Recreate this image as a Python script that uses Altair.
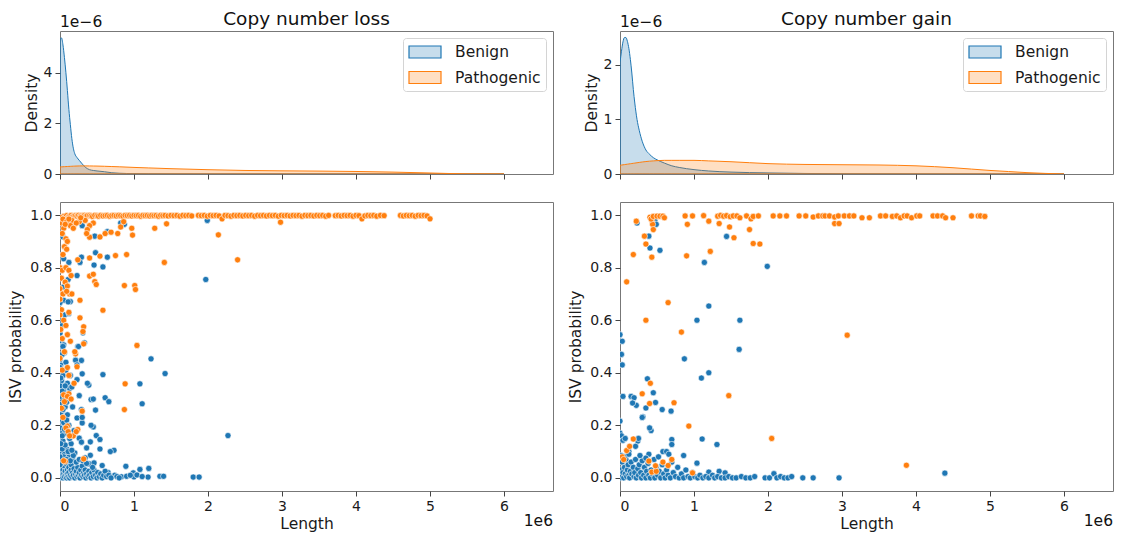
import altair as alt
import pandas as pd

CLASSES = ["Benign", "Pathogenic"]
BLUE, ORANGE = "#1f77b4", "#ff7f0e"

# ---------------- KDE curves (density in units of 1e-6, length in units of 1e6) -------------
kde_x = [0, 0.02, 0.04, 0.06, 0.08, 0.10, 0.12, 0.14, 0.16, 0.18, 0.20, 0.23, 0.26, 0.30, 0.35,
         0.40, 0.45, 0.50, 0.60, 0.70, 0.80, 1.0, 1.2, 1.5, 2.0, 2.5, 3.0, 3.5, 4.0, 4.5, 5.0,
         5.25, 5.5, 6.0]
loss_kde_benign = [5.30, 5.38, 5.10, 4.60, 4.00, 3.30, 2.55, 1.95, 1.40, 1.02, 0.80, 0.65, 0.54,
                   0.40, 0.25, 0.17, 0.14, 0.12, 0.09, 0.05, 0.03, 0.015, 0.01, 0.006, 0.004,
                   0.002, 0.001, 0, 0, 0, 0, 0, 0, 0]
loss_kde_path = [0.28, 0.283, 0.286, 0.29, 0.293, 0.296, 0.30, 0.303, 0.306, 0.309, 0.312, 0.315,
                 0.318, 0.32, 0.32, 0.318, 0.316, 0.313, 0.305, 0.295, 0.285, 0.26, 0.24, 0.21,
                 0.17, 0.14, 0.125, 0.115, 0.10, 0.075, 0.04, 0.02, 0.006, 0]
gain_kde_benign = [2.04, 2.25, 2.42, 2.50, 2.50, 2.43, 2.30, 2.10, 1.85, 1.55, 1.30, 1.00, 0.80,
                   0.60, 0.44, 0.36, 0.30, 0.26, 0.20, 0.15, 0.12, 0.08, 0.055, 0.035, 0.02,
                   0.01, 0.005, 0.003, 0.002, 0.001, 0, 0, 0, 0]
gain_kde_path = [0.16, 0.164, 0.168, 0.172, 0.176, 0.18, 0.184, 0.188, 0.192, 0.196, 0.20, 0.206,
                 0.212, 0.22, 0.228, 0.235, 0.24, 0.245, 0.25, 0.25, 0.25, 0.25, 0.24, 0.225,
                 0.19, 0.175, 0.17, 0.165, 0.15, 0.115, 0.065, 0.045, 0.025, 0]

# ---------------- scatter points: (length in 1e6, ISV probability) ----------------
loss_benign = [
    (0.00, 0.973), (0.04, 0.917), (0.05, 0.834), (0.12, 0.82), (0.11, 0.755), (0.05, 0.727),
    (0.23, 0.77), (0.14, 0.671), (0.05, 0.676), (0.00, 0.667), (0.11, 0.67), (0.06, 0.62),
    (0.12, 0.626), (0.00, 0.63), (0.00, 0.55), (0.02, 0.514), (0.05, 0.506), (0.06, 0.476),
    (0.00, 0.50), (0.04, 0.50), (0.01, 0.43), (0.00, 0.42), (0.04, 0.39), (0.08, 0.41),
    (0.02, 0.37), (0.00, 0.35), (0.05, 0.33), (0.10, 0.36), (0.13, 0.34), (0.03, 0.30),
    (0.00, 0.28), (0.07, 0.27), (0.02, 0.25), (0.10, 0.24), (0.00, 0.22), (0.05, 0.21),
    (0.12, 0.20), (0.02, 0.18), (0.08, 0.17), (0.00, 0.15), (0.04, 0.14), (0.15, 0.13),
    (0.02, 0.12), (0.09, 0.11), (0.00, 0.10), (0.06, 0.09), (0.12, 0.08), (0.17, 0.07),
    (0.82, 0.97), (0.87, 0.965), (0.30, 0.96), (0.47, 0.92), (0.64, 0.937), (0.48, 0.857),
    (0.58, 0.803), (0.46, 0.81), (0.64, 0.84), (0.29, 0.84), (0.27, 0.82), (1.97, 0.755),
    (1.99, 0.98), (0.31, 0.552), (0.33, 0.514), (0.24, 0.50), (0.29, 0.447), (0.21, 0.448),
    (0.23, 0.43), (0.25, 0.50), (1.23, 0.453), (1.42, 0.397), (0.58, 0.393), (0.30, 0.396),
    (1.08, 0.358), (0.39, 0.353), (0.23, 0.374), (0.16, 0.346), (0.26, 0.313), (0.42, 0.298),
    (0.61, 0.305), (0.66, 0.29), (1.11, 0.282), (0.48, 0.258), (0.29, 0.26), (0.09, 0.288),
    (0.23, 0.228), (0.30, 0.209), (0.45, 0.194), (0.49, 0.161), (2.27, 0.161), (0.26, 0.151),
    (0.29, 0.136), (0.41, 0.137), (0.54, 0.146), (0.54, 0.11), (0.73, 0.105), (0.36, 0.114),
    (0.20, 0.095), (0.41, 0.086), (0.34, 0.076), (0.40, 0.053), (0.46, 0.057), (0.89, 0.044),
    (1.08, 0.032), (0.99, 0.019), (1.20, 0.036), (0.57, 0.047), (0.71, 0.006), (0.83, 0.004),
    (0.90, 0.006), (1.00, 0.004), (1.04, 0.011), (1.19, 0.003), (1.35, 0.006), (1.40, 0.006),
    (1.80, 0.003), (1.88, 0.003), (0.65, 0.02), (0.74, 0.01), (0.68, 0.10), (0.37, 0.36),
    (0.45, 0.30), (0.42, 0.20), (0.30, 0.23),
    (0.00, 0.00), (0.01, 0.02), (0.02, 0.005), (0.02, 0.04), (0.03, 0.01), (0.04, 0.03),
    (0.04, 0.00), (0.05, 0.015), (0.06, 0.045), (0.06, 0.005), (0.07, 0.025), (0.08, 0.01),
    (0.08, 0.055), (0.09, 0.00), (0.10, 0.03), (0.10, 0.015), (0.11, 0.005), (0.12, 0.04),
    (0.12, 0.02), (0.13, 0.00), (0.14, 0.01), (0.15, 0.03), (0.15, 0.05), (0.16, 0.005),
    (0.17, 0.02), (0.18, 0.01), (0.19, 0.035), (0.20, 0.00), (0.21, 0.015), (0.22, 0.025),
    (0.23, 0.005), (0.24, 0.04), (0.25, 0.01), (0.26, 0.02), (0.27, 0.00), (0.28, 0.03),
    (0.29, 0.01), (0.30, 0.045), (0.31, 0.005), (0.32, 0.02), (0.33, 0.01), (0.34, 0.03),
    (0.35, 0.00), (0.36, 0.015), (0.38, 0.005), (0.39, 0.025), (0.40, 0.01), (0.42, 0.00),
    (0.43, 0.02), (0.45, 0.005), (0.46, 0.03), (0.48, 0.01), (0.50, 0.00), (0.51, 0.02),
    (0.53, 0.005), (0.55, 0.015), (0.57, 0.00), (0.59, 0.01), (0.61, 0.025), (0.63, 0.005),
    (0.66, 0.01), (0.69, 0.00), (0.77, 0.005), (0.80, 0.00), (0.95, 0.01), (1.11, 0.005),
    (0.02, 0.065), (0.05, 0.08), (0.09, 0.07), (0.14, 0.065), (0.18, 0.085), (0.22, 0.06),
    (0.26, 0.07), (0.11, 0.10), (0.03, 0.11), (0.07, 0.125), (0.16, 0.105), (0.31, 0.065),
    (0.36, 0.055), (0.44, 0.04), (0.00, 0.05), (0.00, 0.08), (0.01, 0.13), (0.00, 0.19),
    (0.03, 0.16), (0.06, 0.185), (0.01, 0.24), (0.04, 0.26), (0.09, 0.22), (0.00, 0.31),
    (0.03, 0.33), (0.07, 0.35), (0.01, 0.38), (0.00, 0.45), (0.03, 0.47), (0.02, 0.58),
    (0.00, 0.60), (0.08, 0.44), (0.14, 0.39), (0.17, 0.27), (0.19, 0.18), (0.13, 0.15),
]

loss_path_band_len = [
    0.03, 0.05, 0.07, 0.09, 0.11, 0.13, 0.15, 0.17, 0.19, 0.21, 0.23, 0.25, 0.27, 0.29, 0.31,
    0.33, 0.35, 0.37, 0.40, 0.42, 0.44, 0.47, 0.50, 0.52, 0.55, 0.58, 0.61, 0.64, 0.67, 0.70,
    0.73, 0.76, 0.79, 0.82, 0.85, 0.88, 0.91, 0.94, 0.97, 1.00, 1.03, 1.06, 1.09, 1.12, 1.15,
    1.18, 1.21, 1.24, 1.27, 1.30, 1.33, 1.36, 1.39, 1.42, 1.46, 1.50, 1.54, 1.58, 1.62, 1.66,
    1.70, 1.74, 1.78, 1.87, 1.91, 1.95, 1.99, 2.03, 2.07, 2.11, 2.15, 2.19, 2.23, 2.27, 2.31,
    2.35, 2.39, 2.43, 2.47, 2.51, 2.55, 2.59, 2.63, 2.67, 2.71, 2.75, 2.79, 2.83, 2.87, 2.91,
    2.95, 2.99, 3.03, 3.07, 3.11, 3.15, 3.19, 3.23, 3.27, 3.31, 3.35, 3.39, 3.43, 3.47, 3.51,
    3.55, 3.59, 3.63, 3.72, 3.76, 3.80, 3.84, 3.88, 3.92, 3.96, 4.00, 4.04, 4.08, 4.12, 4.16,
    4.20, 4.24, 4.28, 4.33, 4.38, 4.60, 4.64, 4.68, 4.72, 4.76, 4.80, 4.84, 4.88, 4.92, 4.96,
    5.00]
loss_path_band_prob = [
    0.990, 0.995, 0.985, 0.998, 0.992, 0.996, 0.999, 0.994, 0.997, 0.998, 0.996, 0.999, 0.995,
    0.998, 0.997, 0.999, 0.996, 0.998, 0.999, 0.997, 0.995, 0.999, 0.998, 0.996, 0.999, 0.997,
    0.998, 0.999, 0.996, 0.998, 0.999, 0.997, 0.999, 0.998, 0.996, 0.999, 0.998, 0.999, 0.997,
    0.999, 0.998, 0.999, 0.996, 0.999, 0.998, 0.999, 0.997, 0.999, 0.998, 0.999, 0.996, 0.999,
    0.998, 0.999, 0.997, 0.999, 0.998, 0.999, 0.996, 0.999, 0.998, 0.999, 0.997, 0.999, 0.998,
    0.999, 0.996, 0.999, 0.998, 0.999, 0.997, 0.986, 0.999, 0.998, 0.996, 0.999, 0.998, 0.999,
    0.997, 0.999, 0.998, 0.999, 0.996, 0.999, 0.998, 0.999, 0.997, 0.999, 0.998, 0.999, 0.996,
    0.999, 0.998, 0.999, 0.997, 0.999, 0.998, 0.999, 0.996, 0.999, 0.998, 0.999, 0.997, 0.999,
    0.998, 0.999, 0.996, 0.999, 0.998, 0.999, 0.997, 0.999, 0.998, 0.999, 0.996, 0.999, 0.998,
    0.986, 0.997, 0.999, 0.998, 0.999, 0.996, 0.999, 0.998, 0.999, 0.997, 0.999, 0.998, 0.999,
    0.996, 0.999, 0.998, 0.999, 0.997, 0.986, 0.998]

loss_path = [
    (0.34, 0.98), (0.45, 0.97), (0.20, 0.965), (0.26, 0.975), (0.16, 0.98), (0.40, 0.96),
    (0.37, 0.945), (0.40, 0.916), (0.36, 0.93), (0.54, 0.917), (0.61, 0.93), (0.69, 0.935),
    (0.78, 0.93), (0.82, 0.955), (0.97, 0.95), (0.98, 0.924), (0.86, 0.975), (1.28, 0.95),
    (1.44, 0.967), (2.14, 0.925), (2.98, 0.973), (2.40, 0.83), (1.41, 0.82), (0.90, 0.85),
    (0.75, 0.846), (0.54, 0.844), (0.40, 0.837), (0.24, 0.83), (0.40, 0.768), (0.45, 0.775),
    (0.47, 0.747), (0.49, 0.736), (0.87, 0.732), (1.01, 0.732), (1.02, 0.717), (0.58, 0.638),
    (1.04, 0.504), (0.88, 0.358), (0.87, 0.26), (0.27, 0.676), (0.27, 0.609), (0.32, 0.575),
    (0.31, 0.557), (0.21, 0.472), (0.23, 0.423), (0.19, 0.36), (0.12, 0.32), (0.30, 0.254),
    (0.24, 0.184), (0.10, 0.197), (0.07, 0.063), (0.18, 0.16), (0.32, 0.072),
    (0.02, 0.97), (0.05, 0.95), (0.03, 0.93), (0.08, 0.91), (0.06, 0.88), (0.10, 0.90),
    (0.09, 0.87), (0.04, 0.85), (0.00, 0.80), (0.03, 0.79), (0.08, 0.80), (0.12, 0.79),
    (0.15, 0.77), (0.02, 0.76), (0.07, 0.745), (0.10, 0.73), (0.00, 0.72), (0.04, 0.70),
    (0.13, 0.70), (0.16, 0.70), (0.09, 0.71), (0.00, 0.68), (0.02, 0.64), (0.00, 0.62),
    (0.12, 0.63), (0.05, 0.60), (0.08, 0.58), (0.01, 0.565), (0.10, 0.545), (0.03, 0.53),
    (0.14, 0.52), (0.06, 0.48), (0.00, 0.455), (0.10, 0.42), (0.12, 0.39), (0.03, 0.41),
    (0.05, 0.316), (0.10, 0.31), (0.15, 0.30), (0.06, 0.29), (0.02, 0.265), (0.04, 0.23),
    (0.08, 0.19), (0.11, 0.176), (0.22, 0.176), (0.13, 0.16), (0.05, 0.065), (0.20, 0.48),
    (0.32, 0.51), (0.01, 0.99), (0.04, 0.985), (0.09, 0.975), (0.12, 0.985), (0.14, 0.96),
    (0.07, 0.965), (0.22, 0.97), (0.18, 0.95), (0.28, 0.99),
]

gain_benign = [
    (0.23, 0.97), (0.47, 0.98), (0.49, 0.965), (0.39, 0.92), (0.405, 0.875), (0.54, 0.866),
    (1.44, 0.919), (1.14, 0.82), (1.99, 0.805), (1.20, 0.654), (1.04, 0.60), (1.62, 0.60),
    (1.61, 0.489), (0.87, 0.453), (0.00, 0.545), (0.03, 0.52), (0.02, 0.47), (0.03, 0.43),
    (1.20, 0.40), (1.10, 0.38), (0.37, 0.377), (0.45, 0.324), (0.04, 0.31), (0.15, 0.31),
    (0.19, 0.305), (0.22, 0.276), (0.17, 0.285), (0.48, 0.287), (0.35, 0.266), (0.31, 0.232),
    (0.57, 0.26), (0.69, 0.254), (0.42, 0.18), (0.00, 0.216), (0.00, 0.17), (0.02, 0.16),
    (0.04, 0.143), (0.24, 0.14), (0.58, 0.10), (0.63, 0.10), (0.70, 0.146), (0.70, 0.127),
    (1.11, 0.148), (1.31, 0.127), (0.86, 0.085), (1.04, 0.056), (1.20, 0.022), (1.34, 0.025),
    (1.42, 0.019), (0.12, 0.10), (0.06, 0.08), (0.25, 0.15), (0.21, 0.12), (0.39, 0.09),
    (0.07, 0.15), (0.30, 0.23), (0.40, 0.19),
    (0.00, 0.00), (0.01, 0.03), (0.02, 0.01), (0.03, 0.06), (0.04, 0.02), (0.05, 0.00),
    (0.06, 0.04), (0.07, 0.015), (0.08, 0.07), (0.09, 0.005), (0.10, 0.03), (0.11, 0.05),
    (0.12, 0.01), (0.13, 0.00), (0.14, 0.025), (0.15, 0.06), (0.16, 0.015), (0.18, 0.04),
    (0.19, 0.005), (0.20, 0.02), (0.21, 0.07), (0.22, 0.00), (0.24, 0.035), (0.25, 0.01),
    (0.26, 0.05), (0.28, 0.02), (0.29, 0.00), (0.30, 0.065), (0.32, 0.01), (0.33, 0.04),
    (0.35, 0.00), (0.36, 0.025), (0.38, 0.055), (0.39, 0.01), (0.41, 0.00), (0.42, 0.03),
    (0.44, 0.015), (0.46, 0.07), (0.47, 0.00), (0.49, 0.04), (0.51, 0.01), (0.53, 0.025),
    (0.55, 0.00), (0.57, 0.05), (0.59, 0.015), (0.61, 0.00), (0.63, 0.03), (0.65, 0.01),
    (0.68, 0.00), (0.70, 0.06), (0.72, 0.02), (0.75, 0.005), (0.78, 0.04), (0.80, 0.00),
    (0.83, 0.015), (0.86, 0.00), (0.89, 0.03), (0.92, 0.005), (0.95, 0.00), (0.98, 0.02),
    (1.01, 0.005), (1.05, 0.00), (1.08, 0.01), (1.12, 0.00), (1.16, 0.005), (1.20, 0.00),
    (1.25, 0.01), (1.28, 0.00), (1.32, 0.005), (1.37, 0.00), (1.42, 0.00), (1.47, 0.005),
    (1.52, 0.00), (1.57, 0.00), (1.64, 0.005), (1.70, 0.00), (1.76, 0.00), (1.82, 0.005),
    (1.96, 0.00), (2.02, 0.00), (2.08, 0.016), (2.12, 0.00), (2.17, 0.005), (2.22, 0.00),
    (2.27, 0.00), (2.32, 0.005), (2.47, 0.00), (2.61, 0.00), (2.96, 0.00), (4.39, 0.018),
    (0.02, 0.085), (0.06, 0.08), (0.12, 0.09), (0.27, 0.085), (0.35, 0.075), (0.52, 0.08),
    (0.66, 0.09),
]

gain_path = [
    (0.22, 0.977), (0.405, 0.992), (0.43, 0.98), (0.44, 0.965), (0.42, 0.985), (0.45, 0.995),
    (0.50, 0.996), (0.54, 0.996), (0.58, 0.996), (0.60, 0.99), (0.88, 0.997), (0.98, 0.997),
    (1.13, 0.998), (1.20, 0.977), (1.32, 0.996), (1.36, 0.999), (1.40, 0.996), (1.44, 0.998),
    (1.49, 0.994), (1.53, 0.997), (1.58, 0.997), (1.62, 0.99), (1.71, 0.997), (1.77, 0.986),
    (1.80, 0.995), (1.87, 0.997), (2.07, 0.997), (2.16, 0.997), (2.25, 0.997), (2.42, 0.997),
    (2.51, 0.997), (2.61, 0.993), (2.68, 0.997), (2.74, 0.997), (2.77, 0.997), (2.83, 0.997),
    (2.90, 0.993), (2.95, 0.997), (3.03, 0.997), (3.10, 0.997), (3.16, 0.997), (3.27, 0.99),
    (3.37, 0.99), (3.52, 0.997), (3.59, 0.997), (3.68, 0.995), (3.74, 0.997), (3.79, 0.99),
    (3.84, 0.997), (3.88, 0.997), (3.94, 0.99), (4.01, 0.997), (4.05, 0.997), (4.23, 0.997),
    (4.29, 0.997), (4.36, 0.997), (4.40, 0.99), (4.50, 0.99), (4.75, 0.997), (4.84, 0.997),
    (4.87, 0.997), (4.93, 0.995),
    (1.34, 0.968), (0.91, 0.965), (1.48, 0.955), (1.54, 0.914), (1.75, 0.945), (1.80, 0.892),
    (1.89, 0.89), (2.90, 0.968), (2.96, 0.968), (0.33, 0.92), (0.35, 0.89), (0.45, 0.945),
    (0.43, 0.84), (0.18, 0.85), (0.90, 0.845), (1.22, 0.862), (0.09, 0.746), (0.65, 0.667),
    (0.35, 0.60), (0.83, 0.555), (3.07, 0.543), (1.47, 0.313), (0.30, 0.32), (0.73, 0.286),
    (0.41, 0.36), (0.40, 0.283), (0.93, 0.197), (2.05, 0.15), (0.18, 0.148), (0.09, 0.104),
    (0.13, 0.12), (0.98, 0.019), (0.65, 0.047), (0.70, 0.07), (0.43, 0.022), (0.49, 0.025),
    (0.39, 0.064), (0.48, 0.046), (0.03, 0.08), (0.05, 0.07), (3.87, 0.048), (0.58, 0.06),
]

# ---------------- tables ----------------
def kde_table(b, p):
    rows = [{"len": x, "dens": v, "cls": "Benign"} for x, v in zip(kde_x, b)]
    rows += [{"len": x, "dens": v, "cls": "Pathogenic"} for x, v in zip(kde_x, p)]
    return pd.DataFrame(rows)


def pts_table(benign, path):
    rows = [{"len": x, "prob": y, "cls": "Benign"} for x, y in benign]
    rows += [{"len": x, "prob": y, "cls": "Pathogenic"} for x, y in path]
    df = pd.DataFrame(rows)
    df["ord"] = range(len(df))
    return df


loss_path_all = list(zip(loss_path_band_len, loss_path_band_prob)) + loss_path

W, HT, HB = 493, 143, 289
XDOM = [0, 6.662]
FONT = "DejaVu Sans"
# legend patch: 32 x 12 px rectangle drawn with a nominal symbol size of 16 px
RECT = "M-2,-0.75L2,-0.75L2,0.75L-2,0.75Z"


def panel(title, kdf, pdf, ymax, yticks):
    legend = alt.Legend(
        title=None, orient="top-right", offset=7, symbolType=RECT, symbolSize=256,
        symbolOffset=8, symbolStrokeWidth=1.2, labelFontSize=15.5, labelOffset=21,
        padding=5, rowPadding=7.5, cornerRadius=3, strokeColor="#d4d4d4",
        fillColor="rgba(255,255,255,0.85)", labelColor="#1a1a1a", labelFont=FONT,
        symbolOpacity=1)
    area = alt.Chart(kdf).mark_area(strokeWidth=1, interpolate="monotone", clip=True).encode(
        x=alt.X("len:Q", scale=alt.Scale(domain=XDOM, nice=False, zero=False),
                axis=alt.Axis(values=[0, 1, 2, 3, 4, 5, 6], labels=False, title=None)),
        y=alt.Y("dens:Q", stack=None, scale=alt.Scale(domain=[0, ymax], nice=False),
                axis=alt.Axis(values=yticks, format="d", title="Density", titlePadding=4)),
        fill=alt.Fill("cls:N", scale=alt.Scale(domain=CLASSES,
                      range=["rgba(31,119,180,0.25)", "rgba(255,127,14,0.25)"]), legend=legend),
        stroke=alt.Stroke("cls:N", scale=alt.Scale(domain=CLASSES, range=[BLUE, ORANGE]),
                          legend=legend),
        order=alt.Order("cls:N"),
    )
    one = pd.DataFrame({"t": [title]})
    ttl = alt.Chart(one).mark_text(fontSize=18.5, align="center", baseline="alphabetic",
                                   color="#111", font=FONT).encode(
        x=alt.value(W / 2), y=alt.value(-6), text="t:N")
    exp = alt.Chart(one).mark_text(fontSize=15.5, align="left", baseline="alphabetic",
                                   color="#111", font=FONT).encode(
        x=alt.value(0), y=alt.value(-4), text=alt.value("1e\u22126"))
    top = alt.layer(area, ttl, exp).properties(width=W, height=HT)

    pts = alt.Chart(pdf).mark_circle(size=38, opacity=1, stroke="white", strokeWidth=0.6,
                                     clip=True).encode(
        x=alt.X("len:Q", scale=alt.Scale(domain=XDOM, nice=False, zero=False),
                axis=alt.Axis(values=[0, 1, 2, 3, 4, 5, 6], format="d", title="Length",
                              titlePadding=3)),
        y=alt.Y("prob:Q", scale=alt.Scale(domain=[-0.05, 1.05], nice=False),
                axis=alt.Axis(values=[0, 0.2, 0.4, 0.6, 0.8, 1.0], format=".1f",
                              title="ISV probability", titlePadding=6)),
        color=alt.Color("cls:N", scale=alt.Scale(domain=CLASSES, range=[BLUE, ORANGE]),
                        legend=None),
        order=alt.Order("ord:Q"),
    )
    ex6 = alt.Chart(one).mark_text(fontSize=15.5, align="right", baseline="alphabetic",
                                   color="#111", font=FONT).encode(
        x=alt.value(W), y=alt.value(HB + 35), text=alt.value("1e6"))
    bottom = alt.layer(pts, ex6).properties(width=W, height=HB)

    return alt.vconcat(top, bottom, spacing=19).resolve_scale(
        fill="independent", stroke="independent", color="independent").resolve_legend(
        fill="independent", stroke="independent")


left = panel("Copy number loss", kde_table(loss_kde_benign, loss_kde_path),
             pts_table(loss_benign, loss_path_all), 5.65, [0, 2, 4])
right = panel("Copy number gain", kde_table(gain_kde_benign, gain_kde_path),
              pts_table(gain_benign, gain_path), 2.62, [0, 1, 2])

chart = alt.hconcat(left, right, spacing=14).resolve_scale(
    fill="independent", stroke="independent", color="independent").resolve_legend(
    fill="independent", stroke="independent").properties(
    padding={"left": 8, "top": 9, "right": 2, "bottom": 2},
    background="white",
).configure(font=FONT).configure_axis(
    labelFont=FONT, titleFont=FONT, labelFontSize=14, titleFontSize=15.5,
    titleFontWeight="normal", labelColor="#1a1a1a", titleColor="#1a1a1a",
    tickColor="#444", tickSize=5, tickWidth=1, labelPadding=3, grid=False, domain=False,
).configure_view(stroke="#777", strokeWidth=1)

chart.save("out.html", embed_options={"renderer": "svg", "actions": False})
